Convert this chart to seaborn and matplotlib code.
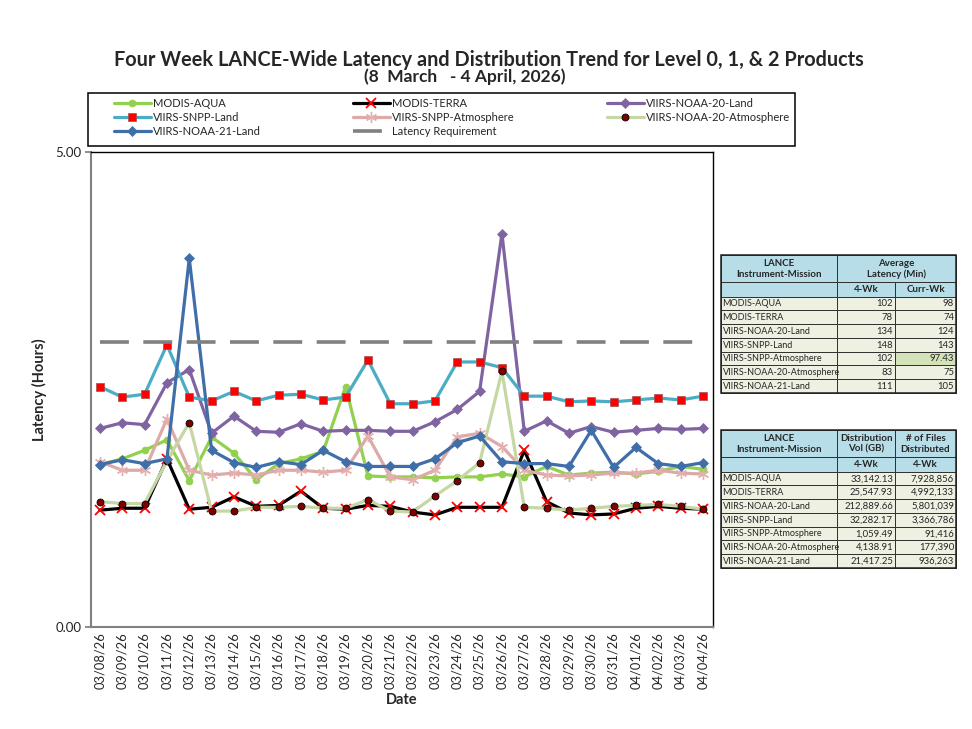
import matplotlib
matplotlib.use("Agg")
import matplotlib.pyplot as plt
from matplotlib.patches import Rectangle
import pandas as pd
import seaborn as sns

# ---------------------------------------------------------------------------
# data (hours)
# ---------------------------------------------------------------------------
dates = ["03/08/26", "03/09/26", "03/10/26", "03/11/26", "03/12/26", "03/13/26",
         "03/14/26", "03/15/26", "03/16/26", "03/17/26", "03/18/26", "03/19/26",
         "03/20/26", "03/21/26", "03/22/26", "03/23/26", "03/24/26", "03/25/26",
         "03/26/26", "03/27/26", "03/28/26", "03/29/26", "03/30/26", "03/31/26",
         "04/01/26", "04/02/26", "04/03/26", "04/04/26"]

modis_aqua = [1.71, 1.77, 1.86, 1.97, 1.54, 2.00, 1.83, 1.55, 1.72, 1.77, 1.85, 2.53, 1.59, 1.58,
              1.58, 1.57, 1.58, 1.58, 1.61, 1.58, 1.69, 1.60, 1.62, 1.63, 1.61, 1.64, 1.69, 1.66]
modis_terra = [1.23, 1.25, 1.25, 1.77, 1.24, 1.26, 1.37, 1.27, 1.28, 1.43, 1.25, 1.24, 1.28, 1.27,
               1.21, 1.18, 1.26, 1.26, 1.26, 1.86, 1.32, 1.20, 1.18, 1.19, 1.25, 1.27, 1.25, 1.24]
noaa20_land = [2.09, 2.15, 2.13, 2.57, 2.71, 2.04, 2.22, 2.06, 2.05, 2.14, 2.06, 2.07, 2.07, 2.06,
               2.06, 2.16, 2.29, 2.48, 4.14, 2.06, 2.17, 2.04, 2.11, 2.05, 2.07, 2.09, 2.08, 2.09]
snpp_land = [2.53, 2.42, 2.45, 2.97, 2.42, 2.38, 2.48, 2.38, 2.44, 2.45, 2.39, 2.42, 2.81, 2.35,
             2.35, 2.38, 2.79, 2.79, 2.73, 2.43, 2.43, 2.37, 2.38, 2.37, 2.39, 2.41, 2.39, 2.43]
snpp_atmos = [1.74, 1.65, 1.65, 2.19, 1.65, 1.60, 1.62, 1.60, 1.65, 1.65, 1.63, 1.65, 2.01, 1.58,
              1.55, 1.65, 2.00, 2.04, 1.90, 1.65, 1.60, 1.59, 1.60, 1.62, 1.62, 1.65, 1.62, 1.61]
noaa20_atmos = [1.32, 1.30, 1.30, 1.75, 2.15, 1.22, 1.22, 1.26, 1.26, 1.27, 1.25, 1.25, 1.34, 1.22,
                1.21, 1.38, 1.54, 1.73, 2.69, 1.26, 1.25, 1.23, 1.25, 1.27, 1.28, 1.29, 1.27, 1.24]
noaa21_land = [1.71, 1.76, 1.72, 1.77, 3.88, 1.86, 1.73, 1.68, 1.74, 1.71, 1.86, 1.74, 1.69, 1.69,
               1.69, 1.77, 1.94, 2.01, 1.74, 1.72, 1.72, 1.69, 2.07, 1.68, 1.89, 1.72, 1.69, 1.73]
latency_req = [3.0] * len(dates)

# table data
missions = ["MODIS-AQUA", "MODIS-TERRA", "VIIRS-NOAA-20-Land", "VIIRS-SNPP-Land",
            "VIIRS-SNPP-Atmosphere", "VIIRS-NOAA-20-Atmosphere", "VIIRS-NOAA-21-Land"]
lat_4wk = ["102", "78", "134", "148", "102", "83", "111"]
lat_curr = ["98", "74", "124", "143", "97.43", "75", "105"]
dist_vol = ["33,142.13", "25,547.93", "212,889.66", "32,282.17", "1,059.49", "4,138.91", "21,417.25"]
n_files = ["7,928,856", "4,992,133", "5,801,039", "3,366,786", "91,416", "177,390", "936,263"]

# ---------------------------------------------------------------------------
sns.set_theme(style="white")
plt.rcParams["font.family"] = ["Lato", "DejaVu Sans"]

fig = plt.figure(figsize=(9.72, 7.29), dpi=100, facecolor="white")
ax = fig.add_axes([91 / 972, 1 - 627 / 729, (713 - 91) / 972, (627 - 152) / 729])

pos = list(range(len(dates)))

# name, values, line colour, marker, marker size, face, edge, edge width
series = [
    ("MODIS-AQUA", modis_aqua, "#92D050", "o", 5, "#92D050", "#92D050", 0.5),
    ("MODIS-TERRA", modis_terra, "#000000", "x", 7, "#FF0000", "#FF0000", 1.3),
    ("VIIRS-NOAA-20-Land", noaa20_land, "#8064A2", "D", 5, "#8064A2", "#8064A2", 0.5),
    ("VIIRS-SNPP-Land", snpp_land, "#4BACC6", "s", 6, "#FF0000", "#A05050", 0.5),
    ("VIIRS-SNPP-Atmosphere", snpp_atmos, "#DDAAAA", (6, 2, 0), 8, "#E6B0B0", "#E6B0B0", 1.0),
    ("VIIRS-NOAA-20-Atmosphere", noaa20_atmos, "#C4D7A4", "o", 5, "#7F0000", "#000000", 0.6),
    ("VIIRS-NOAA-21-Land", noaa21_land, "#3F6EA8", "D", 5, "#3F6EA8", "#3F6EA8", 0.5),
]

for name, vals, col, mk, ms, mfc, mec, mew in series:
    df = pd.DataFrame({"pos": pos, "hours": vals})
    sns.lineplot(data=df, x="pos", y="hours", ax=ax, color=col, linewidth=2.3,
                 marker=mk, markersize=ms, markerfacecolor=mfc, markeredgecolor=mec,
                 markeredgewidth=mew, label=name, legend=False)

req_df = pd.DataFrame({"pos": pos, "hours": latency_req})
sns.lineplot(data=req_df, x="pos", y="hours", ax=ax, color="#808080", linewidth=2.6,
             dashes=False, label="Latency Requirement", legend=False)
ax.lines[-1].set_dashes([8, 4])

ax.set_xlim(-0.4, 27.45)
ax.set_ylim(0, 5)
ax.set_yticks([0, 5])
ax.set_yticklabels(["0.00", "5.00"], fontsize=9.5)
ax.set_xticks(pos)
ax.set_xticklabels(dates, rotation=90, fontsize=9.3)
ax.tick_params(axis="x", length=0, pad=4)
ax.tick_params(axis="y", length=4, direction="out", color="#808080", left=True, pad=3)
ax.set_xlabel("Date", fontsize=10.5, fontweight="bold", labelpad=3)
ax.set_ylabel("Latency (Hours)", fontsize=10.5, fontweight="bold", labelpad=6)
for side in ["left", "bottom"]:
    ax.spines[side].set_color("#808080")
    ax.spines[side].set_linewidth(1.5)
for side in ["top", "right"]:
    ax.spines[side].set_color("#000000")
    ax.spines[side].set_linewidth(1.0)

fig.text(0.503, 1 - 60 / 729,
         "Four Week LANCE-Wide Latency and Distribution Trend for Level 0, 1, & 2 Products",
         ha="center", va="center", fontsize=14.3, fontweight="bold")
fig.text(0.478, 1 - 77 / 729, "(8  March   - 4 April, 2026)",
         ha="center", va="center", fontsize=12.5, fontweight="bold")

# ---------------------------------------------------------------------------
# overlay in pixel space: legend frame and summary tables
# ---------------------------------------------------------------------------
tab = fig.add_axes([0, 0, 1, 1], facecolor="none")
tab.set_xlim(0, 972)
tab.set_ylim(729, 0)
tab.axis("off")

tab.add_patch(Rectangle((88, 93), 795 - 88, 53, facecolor="none",
                        edgecolor="#000000", linewidth=1.1))

# legend, reordered so that rows read like the reference
handles, labels = ax.get_legend_handles_labels()
order = [0, 3, 6, 1, 4, 7, 2, 5]
leg = fig.legend([handles[i] for i in order], [labels[i] for i in order],
                 loc="lower left", ncol=3, mode="expand",
                 bbox_to_anchor=(114 / 972, 1 - 137 / 729, (790 - 114) / 972, 45 / 729),
                 frameon=False, fontsize=8,
                 handlelength=3.3, handletextpad=0.2, labelspacing=0.28,
                 borderpad=0.0, borderaxespad=0, numpoints=1)

HEAD = "#B7DEE8"
CELL = "#EEF0E2"
HILITE = "#D4E2B8"
cols_x = [721, 837, 895, 956]


def cell(x0, x1, y0, y1, color, text="", ha="center", bold=False, size=6.5):
    tab.add_patch(Rectangle((x0, y0), x1 - x0, y1 - y0, facecolor=color,
                            edgecolor="#303030", linewidth=0.7))
    if text:
        if ha == "left":
            tx = x0 + 1.5
        elif ha == "right":
            tx = x1 - 2
        else:
            tx = (x0 + x1) / 2
        tab.text(tx, (y0 + y1) / 2 + 0.5, text, ha=ha, va="center", fontsize=size,
                 fontweight="bold" if bold else "normal", linespacing=1.25)


def draw_table(top, head_a, head_b, col2, col3, merge_head, hilite=None):
    ya, yb, yc = top, top + 26.5, top + 41.5
    row_h = 13.75
    cell(cols_x[0], cols_x[1], ya, yb, HEAD, "LANCE\nInstrument-Mission", bold=True, size=7)
    if merge_head:
        cell(cols_x[1], cols_x[3], ya, yb, HEAD, head_a[0], bold=True, size=7)
    else:
        cell(cols_x[1], cols_x[2], ya, yb, HEAD, head_a[0], bold=True, size=7)
        cell(cols_x[2], cols_x[3], ya, yb, HEAD, head_a[1], bold=True, size=7)
    cell(cols_x[0], cols_x[1], yb, yc, HEAD)
    cell(cols_x[1], cols_x[2], yb, yc, HEAD, head_b[0], bold=True, size=7)
    cell(cols_x[2], cols_x[3], yb, yc, HEAD, head_b[1], bold=True, size=7)
    for r, name in enumerate(missions):
        y0 = yc + r * row_h
        y1 = y0 + row_h
        cell(cols_x[0], cols_x[1], y0, y1, CELL, name, ha="left")
        cell(cols_x[1], cols_x[2], y0, y1, CELL, col2[r], ha="right", size=6.8)
        c3 = HILITE if hilite == r else CELL
        cell(cols_x[2], cols_x[3], y0, y1, c3, col3[r], ha="right", size=6.8)
    tab.add_patch(Rectangle((cols_x[0], top), cols_x[3] - cols_x[0],
                            yc + 7 * row_h - top, facecolor="none",
                            edgecolor="#202020", linewidth=1.1))


draw_table(255, ["Average\nLatency (Min)"], ["4-Wk", "Curr-Wk"],
           lat_4wk, lat_curr, merge_head=True, hilite=4)
draw_table(430, ["Distribution\nVol (GB)", "# of Files\nDistributed"], ["4-Wk", "4-Wk"],
           dist_vol, n_files, merge_head=False)

plt.savefig("out.png", dpi=100, facecolor="white")
